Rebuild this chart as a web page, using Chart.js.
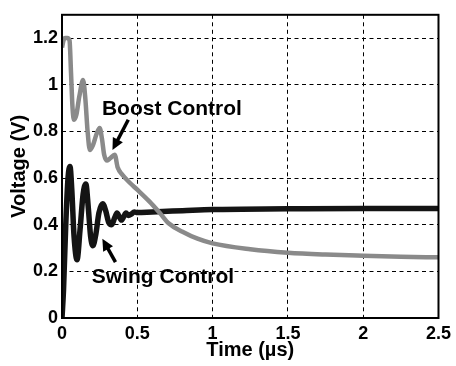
<!DOCTYPE html>
<html>
<head>
<meta charset="utf-8">
<script src="https://cdn.jsdelivr.net/npm/chart.js@4/dist/chart.umd.min.js"></script>
<style>
  html, body { margin: 0; padding: 0; background: #fff; }
  .chart-container { position: relative; width: 456px; height: 366px; }
</style>
</head>
<body>
<div class="chart-container">
  <canvas id="voltageChart"></canvas>
</div>
<script>
// Time axis in microseconds, voltage in volts
const boostTime = [0, 0.01, 0.02, 0.035, 0.05, 0.06, 0.07, 0.08, 0.095, 0.115, 0.14, 0.155, 0.17, 0.185, 0.205, 0.23, 0.25, 0.265, 0.28, 0.3, 0.32, 0.35, 0.37, 0.4, 0.45, 0.5, 0.58, 0.65, 0.71, 0.8, 0.9, 1.0, 1.25, 1.5, 1.75, 2.0, 2.25, 2.5];
const boostVolt = [1.16, 1.19, 1.2, 1.2, 1.19, 1.05, 0.9, 0.85, 0.87, 0.95, 1.02, 0.94, 0.8, 0.72, 0.74, 0.79, 0.815, 0.77, 0.7, 0.675, 0.685, 0.7, 0.645, 0.615, 0.58, 0.55, 0.5, 0.45, 0.405, 0.37, 0.34, 0.32, 0.295, 0.28, 0.272, 0.267, 0.263, 0.26];

const swingTime = [0, 0.01, 0.025, 0.04, 0.053, 0.065, 0.08, 0.1, 0.12, 0.14, 0.158, 0.175, 0.19, 0.205, 0.225, 0.245, 0.27, 0.29, 0.31, 0.33, 0.35, 0.365, 0.38, 0.395, 0.41, 0.425, 0.44, 0.46, 0.48, 0.5, 0.6, 0.8, 1.0, 1.5, 2.0, 2.5];
const swingVolt = [0, 0.12, 0.4, 0.6, 0.65, 0.55, 0.35, 0.25, 0.38, 0.53, 0.575, 0.47, 0.35, 0.31, 0.36, 0.45, 0.49, 0.46, 0.41, 0.4, 0.43, 0.45, 0.435, 0.42, 0.435, 0.45, 0.44, 0.445, 0.455, 0.452, 0.455, 0.46, 0.465, 0.468, 0.47, 0.47];

const xTicks = [0, 0.5, 1, 1.5, 2, 2.5];
const yTicks = [0, 0.2, 0.4, 0.6, 0.8, 1, 1.2];

const FONT = "'Liberation Sans', Arial, Helvetica, sans-serif";

const toPoints = (xs, ys) => xs.map((x, i) => ({ x: x, y: ys[i] }));

// Text labels with pointer arrows, anchored in data coordinates
const callouts = [
  { text: 'Boost Control', tx: 0.265, ty: 0.871, from: [0.44, 0.85], to: [0.335, 0.72] },
  { text: 'Swing Control', tx: 0.198, ty: 0.152, from: [0.355, 0.24], to: [0.268, 0.34] }
];

const framePlugin = {
  id: 'frameAndCallouts',
  afterDraw(chart) {
    const { ctx, chartArea: a, scales: { x, y } } = chart;
    ctx.save();
    // axis box
    ctx.strokeStyle = '#000';
    ctx.lineWidth = 2;
    ctx.strokeRect(a.left, a.top, a.right - a.left, a.bottom - a.top);

    ctx.fillStyle = '#000';
    ctx.font = 'bold 21px ' + FONT;
    ctx.textBaseline = 'alphabetic';
    ctx.textAlign = 'left';
    callouts.forEach(c => {
      ctx.fillText(c.text, x.getPixelForValue(c.tx), y.getPixelForValue(c.ty));
      const x0 = x.getPixelForValue(c.from[0]), y0 = y.getPixelForValue(c.from[1]);
      const x1 = x.getPixelForValue(c.to[0]), y1 = y.getPixelForValue(c.to[1]);
      const ang = Math.atan2(y1 - y0, x1 - x0);
      const head = 13;
      ctx.lineWidth = 3.5;
      ctx.beginPath();
      ctx.moveTo(x0, y0);
      ctx.lineTo(x1 - Math.cos(ang) * head * 0.7, y1 - Math.sin(ang) * head * 0.7);
      ctx.stroke();
      ctx.beginPath();
      ctx.moveTo(x1, y1);
      ctx.lineTo(x1 - head * Math.cos(ang - 0.45), y1 - head * Math.sin(ang - 0.45));
      ctx.lineTo(x1 - head * Math.cos(ang + 0.45), y1 - head * Math.sin(ang + 0.45));
      ctx.closePath();
      ctx.fill();
    });
    ctx.restore();
  }
};

new Chart(document.getElementById('voltageChart'), {
  type: 'scatter',
  data: {
    datasets: [
      {
        label: 'Swing Control',
        data: toPoints(swingTime, swingVolt),
        showLine: true,
        borderColor: '#141414',
        borderWidth: 5.5,
        pointRadius: 0,
        cubicInterpolationMode: 'monotone',
        order: 1
      },
      {
        label: 'Boost Control',
        data: toPoints(boostTime, boostVolt),
        showLine: true,
        borderColor: '#8a8a8a',
        borderWidth: 4.5,
        pointRadius: 0,
        cubicInterpolationMode: 'monotone',
        order: 0
      }
    ]
  },
  options: {
    responsive: true,
    maintainAspectRatio: false,
    animation: false,
    layout: { padding: { top: 11, right: 16, left: 0, bottom: 0 } },
    plugins: {
      legend: { display: false },
      tooltip: { enabled: false }
    },
    scales: {
      x: {
        type: 'linear',
        min: 0,
        max: 2.5,
        afterFit: (s) => { s.height = 48; },
        afterBuildTicks: (s) => { s.ticks = xTicks.map(v => ({ value: v })); },
        ticks: {
          color: '#000',
          font: { family: FONT, size: 18, weight: 'bold' },
          padding: 5,
          maxRotation: 0,
          callback: (v) => String(v)
        },
        grid: { color: '#000', lineWidth: 1, drawTicks: false },
        border: { display: false, dash: [4, 3.5] },
        title: {
          display: true,
          text: 'Time (µs)',
          color: '#000',
          font: { family: FONT, size: 20, weight: 'bold' },
          padding: { top: 0, bottom: 4 }
        }
      },
      y: {
        min: 0,
        max: 1.3,
        afterFit: (s) => { s.width = 62; },
        afterBuildTicks: (s) => { s.ticks = yTicks.map(v => ({ value: v })); },
        ticks: {
          color: '#000',
          font: { family: FONT, size: 18, weight: 'bold' },
          padding: 4,
          callback: (v) => String(v)
        },
        grid: { color: '#000', lineWidth: 1, drawTicks: false },
        border: { display: false, dash: [4, 3.5] },
        title: {
          display: true,
          text: 'Voltage (V)',
          color: '#000',
          font: { family: FONT, size: 20, weight: 'bold' },
          padding: { top: 7, bottom: 0 }
        }
      }
    }
  },
  plugins: [framePlugin]
});
</script>
</body>
</html>
